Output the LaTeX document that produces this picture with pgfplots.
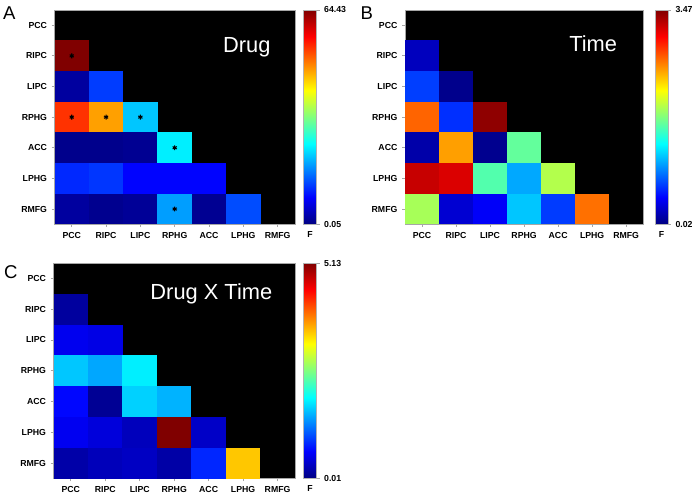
\documentclass[border=0pt]{standalone}
\usepackage{fontspec}
\setmainfont{Liberation Sans}
\usepackage{pgfplots}
\usepackage{pgfplotstable}
\pgfplotsset{compat=1.18}

% one cell of the triangle, sized to each panel's grid
\pgfdeclareplotmark{cellA}{\pgfpathrectangle{\pgfpoint{-13.02pt}{-11.62pt}}{\pgfpoint{26.04pt}{23.24pt}}\pgfusepathqfill}
\pgfdeclareplotmark{cellB}{\pgfpathrectangle{\pgfpoint{-12.91pt}{-11.62pt}}{\pgfpoint{25.82pt}{23.24pt}}\pgfusepathqfill}
\pgfdeclareplotmark{cellC}{\pgfpathrectangle{\pgfpoint{-13.07pt}{-11.68pt}}{\pgfpoint{26.14pt}{23.36pt}}\pgfusepathqfill}

% x = column, y = row (0 = PCC ... 6 = RMFG), c = F value
\pgfplotstableread{
x y c
0 1 64.43
0 2 2.0
1 2 11.9
0 3 53.2
1 3 46.3
2 3 20.6
0 4 0.8
1 4 0.8
2 4 1.2
3 4 23.2
0 5 10.6
1 5 11.5
2 5 8.3
3 5 8.3
4 5 8.3
0 6 2.0
1 6 1.0
2 6 1.5
3 6 18.1
4 6 1.2
5 6 12.9
}\drugdata

\pgfplotstableread{
x y
0 1
0 3
1 3
2 3
3 4
3 6
}\drugstars

\pgfplotstableread{
x y c
0 1 0.23
0 2 0.66
1 2 0.06
0 3 2.70
1 3 0.61
2 3 3.42
0 4 0.16
1 4 2.50
2 4 0.07
3 4 1.65
0 5 3.23
1 5 3.16
2 5 1.59
3 5 1.02
4 5 1.92
0 6 1.88
1 6 0.30
2 6 0.43
3 6 1.12
4 6 0.65
5 6 2.66
}\timedata

\pgfplotstableread{
x y c
0 1 0.16
0 2 0.57
1 2 0.52
0 3 1.65
1 3 1.49
2 3 1.85
0 4 0.68
1 4 0.11
2 4 1.70
3 4 1.55
0 5 0.58
1 5 0.47
2 5 0.31
3 5 5.13
4 5 0.37
0 6 0.21
1 6 0.30
2 6 0.35
3 6 0.20
4 6 0.84
5 6 3.49
}\inter

\pgfplotsset{
  tri/.style={
    scale only axis,
    xmin=-0.5, xmax=6.5, ymin=-0.5, ymax=6.5,
    y dir=reverse,
    axis background/.style={fill=black},
    axis line style={gray!70},
    xtick={0,...,6}, ytick={0,...,6},
    xticklabels={PCC,RIPC,LIPC,RPHG,ACC,LPHG,RMFG},
    yticklabels={PCC,RIPC,LIPC,RPHG,ACC,LPHG,RMFG},
    xtick pos=lower, ytick pos=left,
    tick align=outside, major tick length=2.2pt,
    tick style={gray!70, semithick},
    tick label style={font=\bfseries\fontsize{6.6}{7}\selectfont},
    colormap/jet,
    colorbar,
    clip=false,
  },
  % the colorbar's own default xshift of 0.3cm is added to the one given here
  cbar/.style={
    colorbar style={
      at={(parent axis.north east)}, anchor=north west,
      xshift=#1, width=9.75pt,
      scale only axis,
      axis line style={gray!60},
      ytick pos=right, yticklabel pos=right,
      tick align=outside, major tick length=2.2pt,
      tick style={gray!70, semithick},
      tick label style={font=\bfseries\fontsize{6.6}{7}\selectfont},
    },
  },
}

\begin{document}
\begin{tikzpicture}
\path (0pt,0pt) rectangle (522.75pt,-374.25pt);

% A: Drug
\begin{axis}[tri, cbar=-1.79pt,
    at={(41.25pt,-7.5pt)}, anchor=north west,
    width=181.5pt, height=162pt,
    point meta min=0.05, point meta max=64.43,
    colorbar style={height=162pt, ytick={0.05,64.43}, yticklabels={0.05,64.43}},
]
\addplot[scatter, only marks, mark=cellA, point meta=explicit]
  table[x=x, y=y, meta=c] {\drugdata};
\addplot[only marks, mark=asterisk, mark size=1.8pt, black, thick]
  table[x=x, y=y] {\drugstars};
\node[white, font=\fontsize{16.5}{18}\selectfont, anchor=base] at (rel axis cs:0.80,0.80) {Drug};
\node[font=\bfseries\fontsize{6.6}{7}\selectfont] at (rel axis cs:1,0) [xshift=11.6pt, yshift=-7.6pt] {F};
\end{axis}

% B: Time
\begin{axis}[tri, cbar=0.46pt,
    at={(306pt,-7.5pt)}, anchor=north west,
    width=180pt, height=162pt,
    point meta min=0.02, point meta max=3.47,
    colorbar style={height=162pt, ytick={0.02,3.47}, yticklabels={0.02,3.47}},
]
\addplot[scatter, only marks, mark=cellB, point meta=explicit]
  table[x=x, y=y, meta=c] {\timedata};
\node[white, font=\fontsize{16.5}{18}\selectfont, anchor=base] at (rel axis cs:0.79,0.806) {Time};
\node[font=\bfseries\fontsize{6.6}{7}\selectfont] at (rel axis cs:1,0) [xshift=13.9pt, yshift=-7.6pt] {F};
\end{axis}

% C: Drug X Time
\begin{axis}[tri, cbar=-1.79pt,
    at={(40.5pt,-198.75pt)}, anchor=north west,
    width=182.25pt, height=162.75pt,
    point meta min=0.01, point meta max=5.13,
    colorbar style={height=162.75pt, ytick={0.01,5.13}, yticklabels={0.01,5.13}},
]
\addplot[scatter, only marks, mark=cellC, point meta=explicit]
  table[x=x, y=y, meta=c] {\inter};
\node[white, font=\fontsize{16.5}{18}\selectfont, anchor=base] at (rel axis cs:0.654,0.83) {Drug X Time};
\node[font=\bfseries\fontsize{6.6}{7}\selectfont] at (rel axis cs:1,0) [xshift=11.6pt, yshift=-7.6pt] {F};
\end{axis}

\node[anchor=north west, inner sep=0pt, font=\fontsize{14}{16}\selectfont] at (2.25pt,-5.25pt) {A};
\node[anchor=north west, inner sep=0pt, font=\fontsize{14}{16}\selectfont] at (272.25pt,-5.25pt) {B};
\node[anchor=north west, inner sep=0pt, font=\fontsize{14}{16}\selectfont] at (3pt,-200.25pt) {C};
\end{tikzpicture}
\end{document}
